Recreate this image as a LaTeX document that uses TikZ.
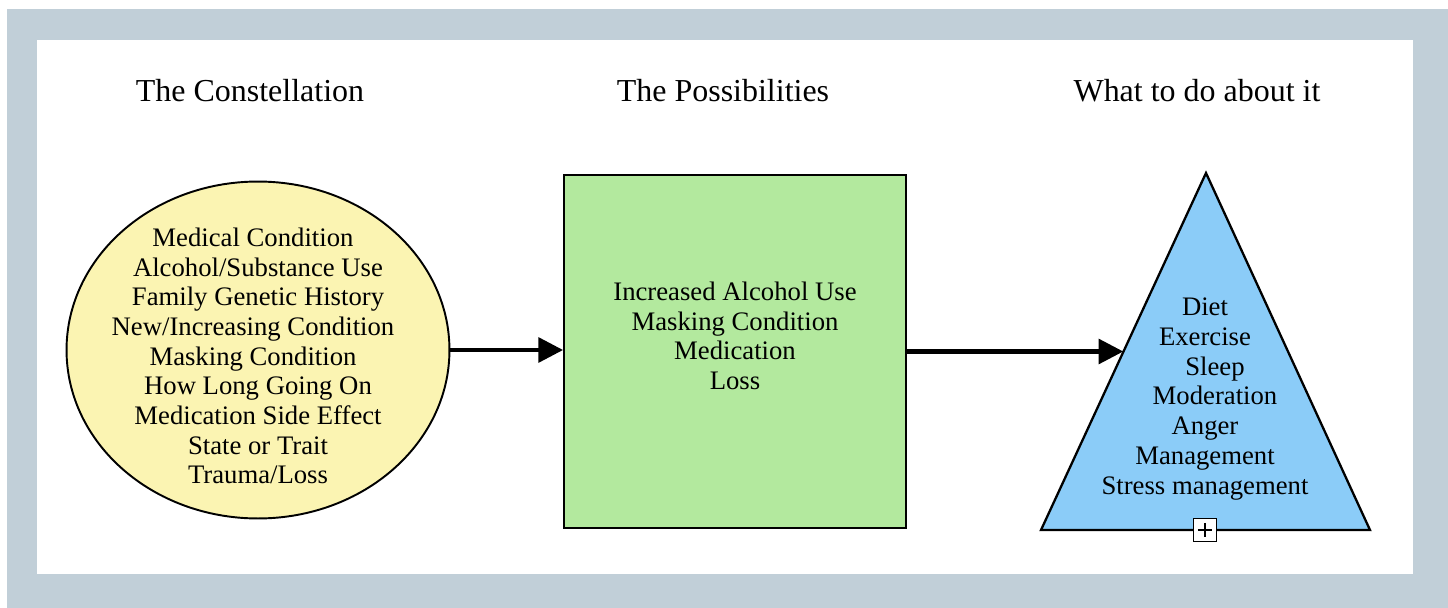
\documentclass[tikz,border=0pt]{standalone}
\usepackage{fontspec}
\setmainfont{Liberation Serif}
\usetikzlibrary{calc, positioning, shapes.geometric, arrows.meta}

\definecolor{framegrey}{RGB}{193,207,216}
\definecolor{constelyellow}{RGB}{251,244,178}
\definecolor{possibgreen}{RGB}{179,233,158}
\definecolor{remedyblue}{RGB}{139,204,248}

\tikzset{
    heading/.style={font=\fontsize{18.2}{21}\selectfont},
    itemlist/.style={align=center, inner sep=0pt, font=\fontsize{15.2}{16.9}\selectfont},
    flow/.style={line width=2.3pt, -{Triangle[length=14pt, width=14pt]}},
    plusbox/.style={draw, fill=white, line width=0.8pt, minimum size=0.46cm, inner sep=0pt,
        path picture={
            \draw[line width=0.7pt] ([xshift=2.5pt]path picture bounding box.west) -- ([xshift=-2.5pt]path picture bounding box.east);
            \draw[line width=0.7pt] ([yshift=-2.5pt]path picture bounding box.north) -- ([yshift=2.5pt]path picture bounding box.south);
        }}
}
\newcommand{\lpad}{\mbox{}\hspace*{0.4cm}}
\newcommand{\rpad}{\hspace*{0.2cm}\mbox{}}

\begin{document}
\begin{tikzpicture}[x=0.02cm, y=-0.02cm]
    \useasboundingbox (0,0) rectangle (1448,608);
    \fill[framegrey] (7,9) rectangle (1448,608);
    \fill[white] (37,40) rectangle (1413,574);

    \foreach \n/\x/\t in {constel/250/The Constellation, possib/723/The Possibilities, remedy/1197/What to do about it}
        \node[heading] (\n-title) at (\x,91) {\t};

    % the constellation
    \node[ellipse, draw, line width=1.1pt, fill=constelyellow, inner sep=0pt,
          minimum width=7.66cm, minimum height=6.74cm] (constel) at (258,350) {};
    \node[itemlist] (constel-list) at (258,356) {Medical Condition\rpad\\ Alcohol/Substance Use\\ Family Genetic History\\
        New/Increasing Condition\rpad\\ Masking Condition\rpad\\ How Long Going On\\ Medication Side Effect\\ State or Trait\\ Trauma/Loss};

    % the possibilities
    \node[draw, line width=1.1pt, fill=possibgreen, inner sep=0pt,
          minimum width=6.84cm, minimum height=7.06cm] (possib) at (735,351.5) {};
    \node[itemlist] (possib-list) at (735,336) {Increased Alcohol Use\\ Masking Condition\\ Medication\\ Loss};

    % what to do about it
    \coordinate (remedyT) at (1206,173);
    \coordinate (remedyL) at (1041,530);
    \coordinate (remedyR) at (1370,530);
    \draw[line width=1.3pt, line join=miter, fill=remedyblue] (remedyT) -- (remedyL) -- (remedyR) -- cycle;
    \coordinate (remedyin) at ($(remedyL)!0.4986!(remedyT)$);
    \node[itemlist] (remedy-list) at (1205,399) {Diet\\ Exercise\\ \lpad Sleep\\ \lpad Moderation\\ Anger\\ Management\\ Stress management};
    \node[plusbox] (expand) at (1205,530) {};

    \draw[flow] (constel.east) -- (constel.east -| possib.west);
    \draw[flow] (possib.east) -- (possib.east -| remedyin);
\end{tikzpicture}
\end{document}
